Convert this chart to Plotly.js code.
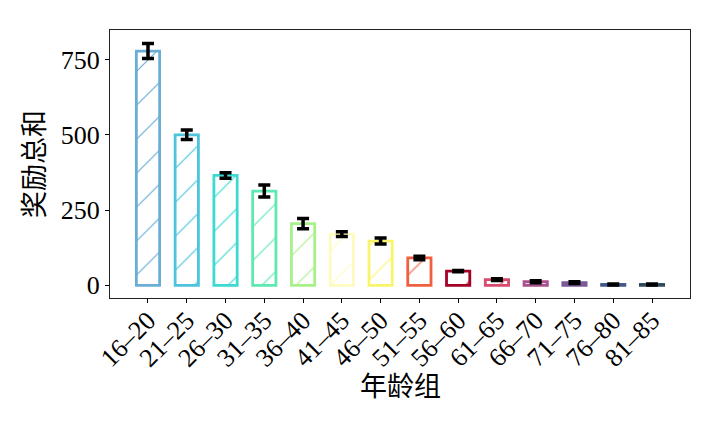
<!DOCTYPE html>
<html>
<head>
<meta charset="utf-8">
<script src="https://cdn.plot.ly/plotly-3.0.1.min.js"></script>
<style>html,body{margin:0;padding:0;background:#fff;}#chart{width:720px;height:432px;}</style>
</head>
<body>
<div id="chart"></div>
<script>
const categories = ["16–20","21–25","26–30","31–35","36–40","41–45","46–50","51–55","56–60","61–65","66–70","71–75","76–80","81–85"];
const rewardSum = [778, 500, 365, 313, 205, 170, 147, 91, 47, 19, 12, 9, 3, 3];
const rewardErr = [25, 16, 9, 20, 17, 8, 10, 6, 2, 3, 3, 3, 1.5, 1.5];
const barColors = ["#6aaed6","#4cc4dc","#3dd9d2","#5ee8b2","#a8f08a","#fdfbbf","#f8f56c","#f06040","#a50026","#d84a6e","#a9508f","#7b5996","#3f5888","#2f4a5e"];
const xTitle = "年龄组";
const yTitle = "奖励总和";

const trace = {
  type: "bar",
  x: categories,
  y: rewardSum,
  width: 0.6,
  marker: {
    color: "rgba(255,255,255,0)",
    line: {color: barColors, width: 2.8},
    pattern: {shape: "/", fgcolor: barColors, bgcolor: "rgba(255,255,255,0)", size: 24, solidity: 0.05}
  },
  error_y: {type: "data", array: rewardErr, visible: true, color: "#000", thickness: 3.5, width: 6}
};

const tickFont = {family: "Liberation Serif, DejaVu Serif, serif", size: 26, color: "#000"};
const titleFont = {family: "Noto Sans CJK SC, sans-serif", size: 27, color: "#000"};
const layout = {
  width: 720, height: 432,
  margin: {l: 110, r: 30, t: 30, b: 134},
  paper_bgcolor: "#fff", plot_bgcolor: "#fff",
  showlegend: false,
  xaxis: {
    type: "category",
    range: [-0.98, 13.98],
    tickangle: -45,
    tickfont: tickFont,
    ticklabelstandoff: -8,
    ticks: "outside", ticklen: 4, tickcolor: "#000",
    showline: true, linecolor: "#222", linewidth: 1, mirror: true,
    showgrid: false, zeroline: false
  },
  yaxis: {
    range: [-42, 848],
    tickvals: [0, 250, 500, 750],
    tickfont: tickFont,
    ticks: "outside", ticklen: 4, tickcolor: "#000",
    showline: true, linecolor: "#222", linewidth: 1, mirror: true,
    showgrid: false, zeroline: false,
    title: {text: yTitle, font: titleFont, standoff: 8}
  },
  annotations: [{
    text: xTitle, font: titleFont, showarrow: false,
    xref: "paper", yref: "paper", x: 0.5, y: -0.322,
    xanchor: "center", yanchor: "middle"
  }]
};
Plotly.newPlot("chart", [trace], layout, {displayModeBar: false, staticPlot: true});
</script>
</body>
</html>
